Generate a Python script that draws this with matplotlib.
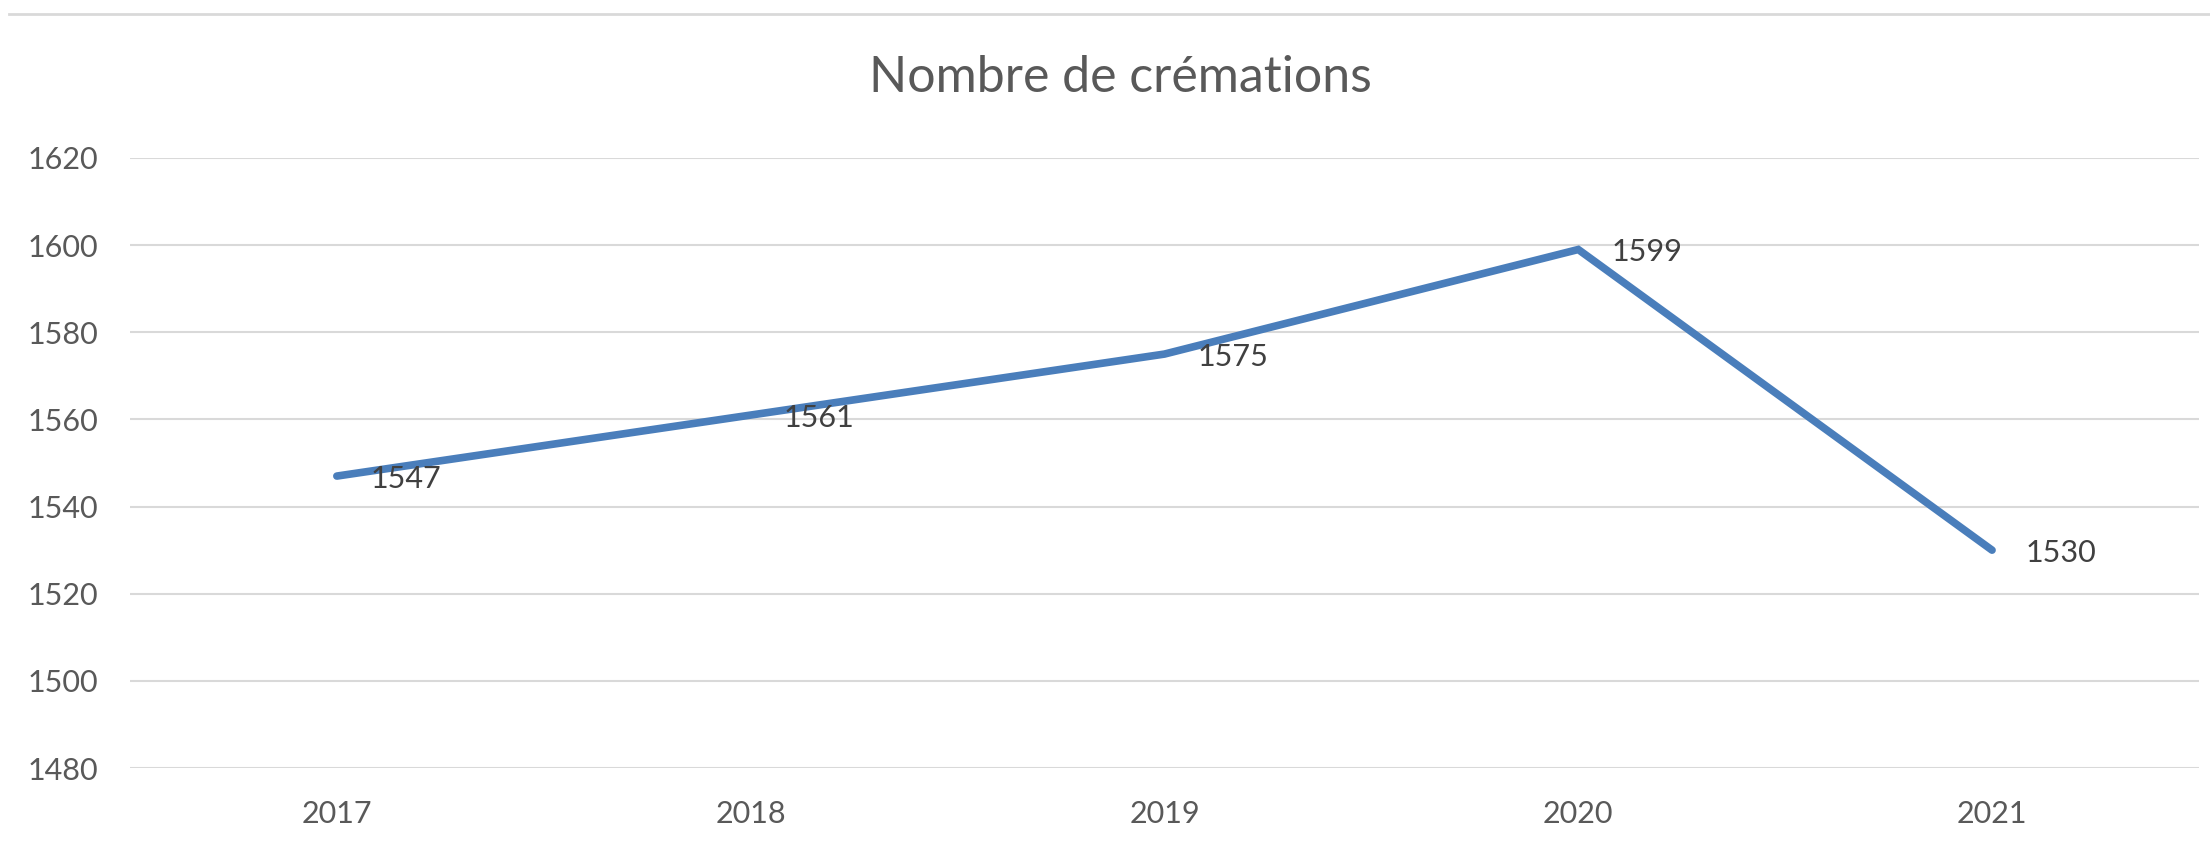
import matplotlib.pyplot as plt
import matplotlib.lines as mlines

# Data
years = ['2017', '2018', '2019', '2020', '2021']
cremations = [1547, 1561, 1575, 1599, 1530]
y_ticks = [1480, 1500, 1520, 1540, 1560, 1580, 1600, 1620]

plt.rcParams['font.family'] = ['Lato', 'DejaVu Sans']

fig = plt.figure(figsize=(22.1, 8.49), dpi=100)
ax = fig.add_axes([0.0588, 0.0954, 0.9362, 0.7185])

x = list(range(len(years)))
ax.plot(x, cremations, color='#4A7EBB', linewidth=5.5, solid_capstyle='round',
        solid_joinstyle='miter', zorder=3)

# data labels to the right of each point
for xi, v in zip(x, cremations):
    ax.annotate(str(v), (xi, v), xytext=(24, -2), textcoords='offset points',
                ha='left', va='center', fontsize=22, color='#404040')

ax.set_xlim(-0.5, len(years) - 0.5)
ax.set_ylim(y_ticks[0], y_ticks[-1])
ax.set_yticks(y_ticks)
ax.set_xticks(x)
ax.set_xticklabels(years)

ax.grid(axis='y', color='#D9D9D9', linewidth=1.5)
ax.set_axisbelow(True)
for s in ax.spines.values():
    s.set_visible(False)
ax.tick_params(axis='both', length=0, labelsize=22, labelcolor='#595959')
ax.tick_params(axis='y', pad=23)
ax.tick_params(axis='x', pad=23)

fig.text(0.507, 0.908, 'Nombre de crémations', ha='center', va='center',
         fontsize=36, color='#595959')

# chart area border (top edge visible)
fig.add_artist(mlines.Line2D([0.004, 1.0], [0.9835, 0.9835], transform=fig.transFigure,
                             color='#D9D9D9', linewidth=2))

fig.savefig('out.png', dpi=100, facecolor='white')
